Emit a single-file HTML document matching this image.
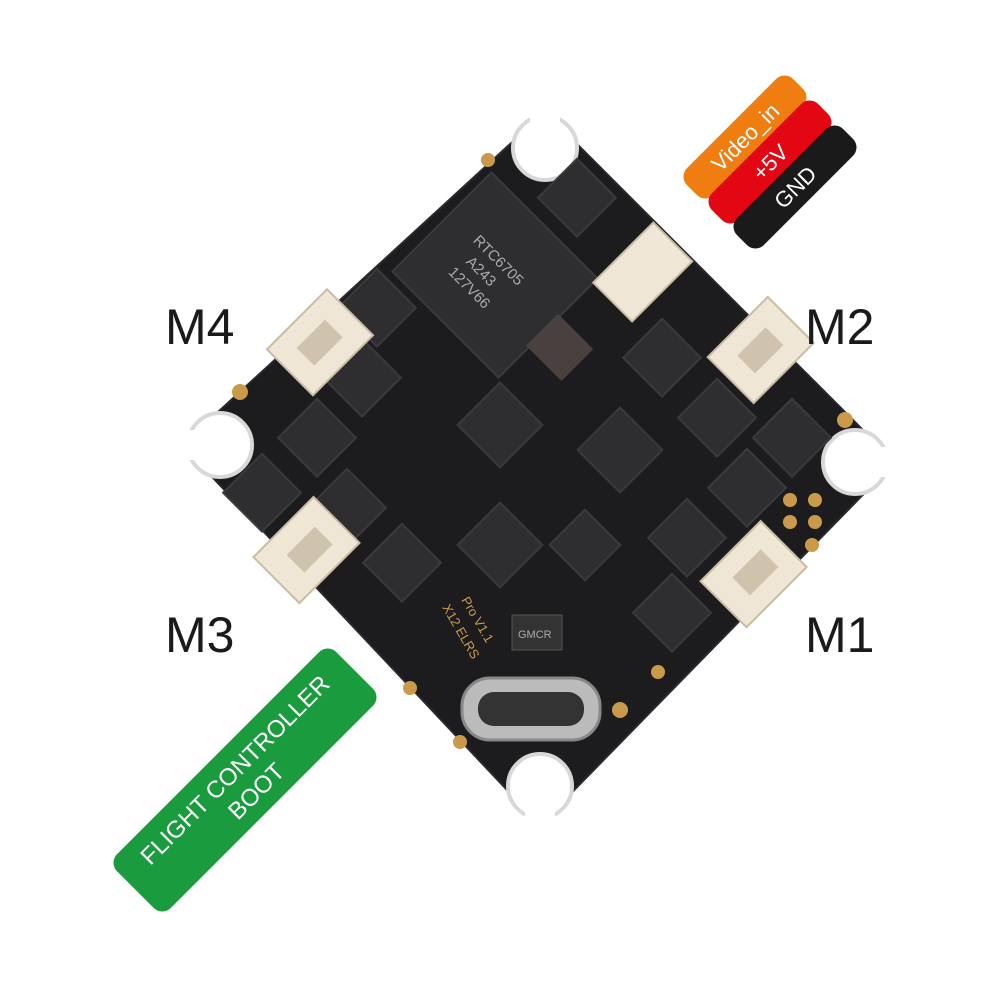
<!DOCTYPE html>
<html><head><meta charset="utf-8"><style>
html,body{margin:0;padding:0;background:#fff}
svg{display:block}
text{font-family:"Liberation Sans",Arial,sans-serif}
</style></head><body>
<svg width="1000" height="1000" viewBox="0 0 1000 1000" xmlns="http://www.w3.org/2000/svg">
<g>
<polygon points="545,112 895,462 540,825 182,445" fill="#1c1c1e" stroke="#2a2a2c" stroke-width="2" stroke-linejoin="round"/>
<rect x="527" y="100" width="36" height="45" fill="#fff"/>
<rect x="860" y="444" width="45" height="36" fill="#fff"/>
<rect x="522" y="790" width="36" height="45" fill="#fff"/>
<rect x="172" y="427" width="45" height="36" fill="#fff"/>
<circle cx="545" cy="148" r="32" fill="#fff" stroke="#d8d8d8" stroke-width="4"/>
<circle cx="855" cy="462" r="32" fill="#fff" stroke="#d8d8d8" stroke-width="4"/>
<circle cx="540" cy="786" r="32" fill="#fff" stroke="#d8d8d8" stroke-width="4"/>
<circle cx="220" cy="445" r="32" fill="#fff" stroke="#d8d8d8" stroke-width="4"/>
<rect x="530" y="100" width="30" height="40" fill="#fff"/>
<rect x="865" y="447" width="40" height="30" fill="#fff"/>
<rect x="525" y="795" width="30" height="40" fill="#fff"/>
<rect x="172" y="430" width="40" height="30" fill="#fff"/>
</g>
<g fill="#2e2e30" stroke="#3a3a3c" stroke-width="2">
<rect x="420" y="205" width="150" height="140" transform="rotate(45 495 275)"/>
<rect x="470" y="395" width="60" height="60" transform="rotate(45 500 425)"/>
<rect x="590" y="420" width="60" height="60" transform="rotate(45 620 450)"/>
<rect x="470" y="515" width="60" height="60" transform="rotate(45 500 545)"/>
<rect x="560" y="520" width="50" height="50" transform="rotate(45 585 545)"/>
<rect x="350" y="280" width="55" height="55" transform="rotate(45 377 307)"/>
<rect x="335" y="350" width="55" height="55" transform="rotate(45 362 377)"/>
<rect x="290" y="410" width="55" height="55" transform="rotate(45 317 437)"/>
<rect x="235" y="465" width="55" height="55" transform="rotate(45 262 492)"/>
<rect x="320" y="480" width="55" height="55" transform="rotate(45 347 507)"/>
<rect x="375" y="535" width="55" height="55" transform="rotate(45 402 562)"/>
<rect x="635" y="330" width="55" height="55" transform="rotate(45 662 357)"/>
<rect x="690" y="390" width="55" height="55" transform="rotate(45 717 417)"/>
<rect x="765" y="410" width="55" height="55" transform="rotate(45 792 437)"/>
<rect x="720" y="460" width="55" height="55" transform="rotate(45 747 487)"/>
<rect x="660" y="510" width="55" height="55" transform="rotate(45 687 537)"/>
<rect x="645" y="585" width="55" height="55" transform="rotate(45 672 612)"/>
<rect x="550" y="170" width="55" height="55" transform="rotate(45 577 197)"/>
</g>
<rect x="535" y="325" width="50" height="45" fill="#4a4040" transform="rotate(45 560 347)"/>
<g fill="#aaa" font-size="15" transform="rotate(45 490 280)">
<text x="450" y="265">RTC6705</text><text x="460" y="285">A243</text><text x="455" y="305">127V66</text>
</g>
<g fill="#c99a4a">
<circle cx="240" cy="392" r="8"/><circle cx="845" cy="420" r="8"/><circle cx="620" cy="710" r="8"/>
<circle cx="790" cy="500" r="7"/><circle cx="815" cy="500" r="7"/><circle cx="790" cy="522" r="7"/><circle cx="815" cy="522" r="7"/><circle cx="812" cy="545" r="7"/>
<circle cx="658" cy="672" r="7"/><circle cx="410" cy="688" r="7"/><circle cx="460" cy="742" r="7"/><circle cx="488" cy="160" r="7"/>
</g>
<g fill="#efe6d6" stroke="#c9bca4" stroke-width="2">
<rect x="278" y="310" width="85" height="65" transform="rotate(-45 320 343)"/>
<rect x="718" y="318" width="85" height="65" transform="rotate(-45 760 350)"/>
<rect x="265" y="515" width="85" height="65" transform="rotate(-45 310 550)"/>
<rect x="710" y="540" width="85" height="65" transform="rotate(-45 755 572)"/>
<rect x="600" y="245" width="85" height="55" transform="rotate(-45 642 272)"/>
</g>
<g fill="#cfc3ad">
<rect x="300" y="330" width="40" height="25" transform="rotate(-45 320 343)"/>
<rect x="740" y="338" width="40" height="25" transform="rotate(-45 760 350)"/>
<rect x="290" y="537" width="40" height="25" transform="rotate(-45 310 550)"/>
<rect x="735" y="560" width="40" height="25" transform="rotate(-45 755 572)"/>
</g>
<rect x="462" y="678" width="138" height="62" rx="28" fill="#bbb" stroke="#888" stroke-width="3"/>
<rect x="478" y="692" width="106" height="34" rx="16" fill="#333"/>
<rect x="512" y="615" width="50" height="35" fill="#333" stroke="#555"/>
<text x="518" y="638" fill="#aaa" font-size="11">GMCR</text>
<text x="430" y="612" fill="#c99a4a" font-size="13" transform="rotate(60 440 620)">X12 ELRS</text>
<text x="450" y="605" fill="#c99a4a" font-size="13" transform="rotate(60 460 612)">Pro V1.1</text>
<g font-size="50" fill="#1a1a1a">
<text x="165" y="344">M4</text><text x="805" y="344">M2</text>
<text x="165" y="652">M3</text><text x="805" y="652">M1</text>
</g>
<g transform="rotate(-45 745 137)">
<rect x="670" y="118" width="150" height="38" rx="12" fill="#ef7d0f"/>
<text x="745" y="145" font-size="22" fill="#fff" text-anchor="middle">Video_in</text>
</g>
<g transform="rotate(-45 770 162)">
<rect x="695" y="143" width="150" height="38" rx="12" fill="#e30613"/>
<text x="770" y="170" font-size="22" fill="#fff" text-anchor="middle">+5V</text>
</g>
<g transform="rotate(-45 795 187)">
<rect x="720" y="168" width="150" height="38" rx="12" fill="#1a1a1a"/>
<text x="795" y="195" font-size="22" fill="#fff" text-anchor="middle">GND</text>
</g>
<g transform="rotate(-45 245 780)">
<rect x="90" y="742" width="310" height="76" rx="12" fill="#1a9b3e"/>
<text x="245" y="774" font-size="24" fill="#fff" text-anchor="middle">FLIGHT CONTROLLER</text>
<text x="245" y="804" font-size="24" fill="#fff" text-anchor="middle">BOOT</text>
</g>
</svg>
</body></html>
